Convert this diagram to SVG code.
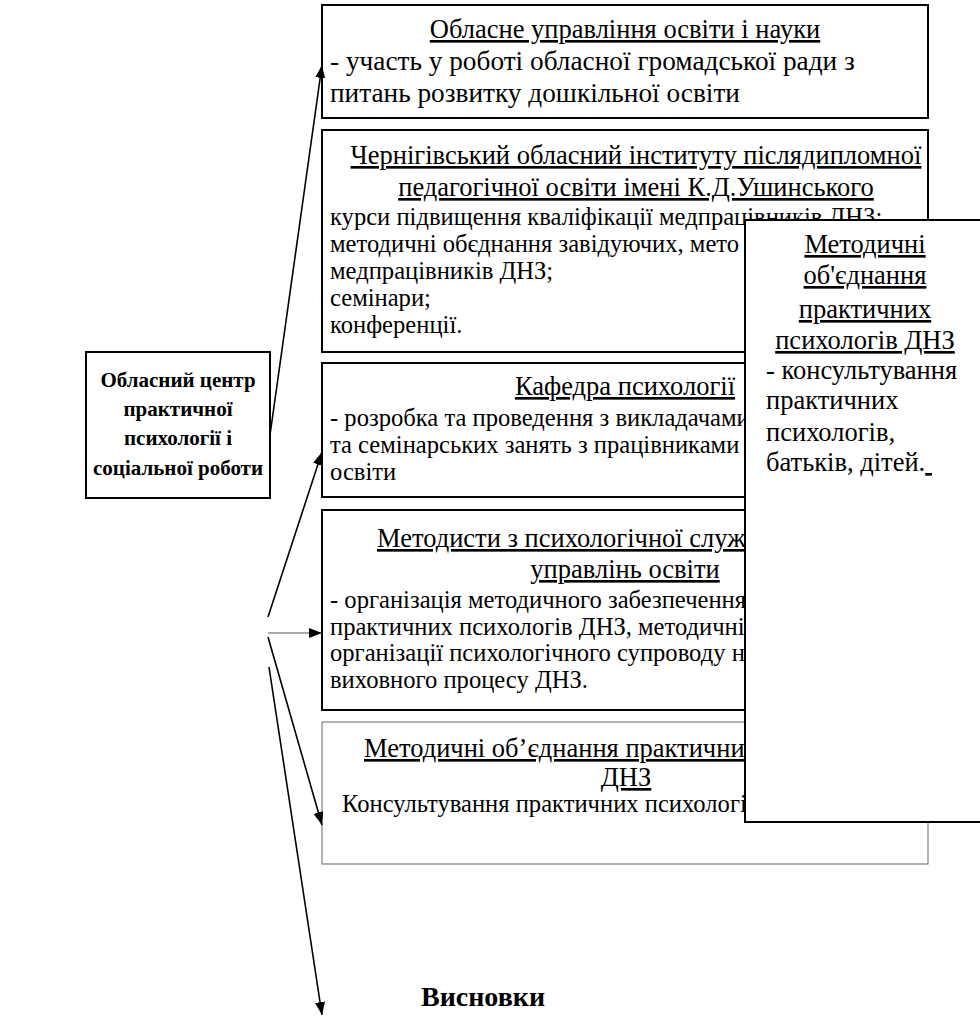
<svg xmlns="http://www.w3.org/2000/svg" width="980" height="1018" viewBox="0 0 980 1018">
<defs>
<marker id="ah" markerUnits="userSpaceOnUse" markerWidth="14" markerHeight="12" refX="13" refY="5" orient="auto">
<path d="M0,0 L13,5 L0,10 z" fill="#000"/>
</marker>
<style>
.box{fill:#fff;stroke:#000;stroke-width:2}
.thin{fill:#fff;stroke:#666;stroke-width:1}
.t{font-family:"Liberation Serif","Times New Roman",serif;font-size:26.5px;fill:#000}
.s{font-family:"Liberation Serif","Times New Roman",serif;font-size:24.6px;fill:#000}
.b{font-family:"Liberation Serif","Times New Roman",serif;font-size:21px;font-weight:bold;fill:#000}
.u{text-decoration:underline}
.c{text-anchor:middle}
.ln{stroke:#000;stroke-width:1.6;fill:none;marker-end:url(#ah)}
</style>
</defs>
<rect width="980" height="1018" fill="#fff"/>

<g id="n1">
<rect class="box" x="322" y="5" width="606" height="113"/>
<text class="t c u" x="625" y="38">Обласне управління освіти і науки</text>
<text class="t" x="330" y="70" style="font-size:27.3px">- участь у роботі обласної громадської ради з</text>
<text class="t" x="330" y="102" style="font-size:27.3px">питань розвитку дошкільної освіти</text>
</g>

<g id="n2">
<rect class="box" x="322" y="130" width="606" height="222"/>
<text class="t c u" x="636" y="164">Чернігівський обласний інституту післядипломної</text>
<text class="t c u" x="636" y="196">педагогічної освіти імені К.Д.Ушинського</text>
<text class="s" x="330" y="225">курси підвищення кваліфікації медпрацівників ДНЗ;</text>
<text class="s" x="330" y="252">методичні обєднання завідуючих, мето</text>
<text class="s" x="330" y="279">медпрацівників ДНЗ;</text>
<text class="s" x="330" y="306">семінари;</text>
<text class="s" x="330" y="333">конференції.</text>
</g>

<g id="n3">
<rect class="box" x="322" y="363" width="606" height="134"/>
<text class="t c u" x="625" y="395">Кафедра психології</text>
<text class="s" x="330" y="426">- розробка та проведення з викладачами</text>
<text class="s" x="330" y="453">та семінарських занять з працівниками</text>
<text class="s" x="330" y="480">освіти</text>
</g>

<g id="n4">
<rect class="box" x="322" y="510" width="606" height="200"/>
<text class="t u" x="377" y="547">Методисти з психологічної служ</text>
<text class="t c u" x="625" y="578">управлінь освіти</text>
<text class="s" x="330" y="608">- організація методичного забезпечення</text>
<text class="s" x="330" y="635">практичних психологів ДНЗ, методичні</text>
<text class="s" x="330" y="661">організації психологічного супроводу н</text>
<text class="s" x="330" y="688">виховного процесу ДНЗ.</text>
</g>

<g id="n5">
<rect class="thin" x="322" y="722" width="606" height="142"/>
<text class="t u" x="364" y="757">Методичні об’єднання практични</text>
<text class="t c u" x="626" y="786">ДНЗ</text>
<text class="s" x="342" y="812">Консультування практичних психологів</text>
</g>

<g id="n6">
<rect class="box" x="745" y="220" width="260" height="602"/>
<text class="t c u" x="865" y="253">Методичні</text>
<text class="t c u" x="865" y="284">об'єднання</text>
<text class="t c u" x="865" y="318">практичних</text>
<text class="t c u" x="865" y="349">психологів ДНЗ</text>
<text class="t" x="766" y="379">- консультування</text>
<text class="t" x="766" y="409">практичних</text>
<text class="t" x="766" y="441">психологів,</text>
<text class="t" x="766" y="471">батьків, дітей.<tspan class="u">&#160;</tspan></text>
</g>

<g id="n0">
<rect class="box" x="86" y="352" width="184" height="146"/>
<text class="b c" x="178" y="387">Обласний центр</text>
<text class="b c" x="178" y="416">практичної</text>
<text class="b c" x="178" y="445">психології і</text>
<text class="b c" x="178" y="475">соціальної роботи</text>
</g>

<g id="n7">
<text class="b c" x="483" y="1006" style="font-size:28px">Висновки</text>
</g>

<g id="connectors">
<line class="ln" x1="270" y1="435" x2="322" y2="65"/>
<line class="ln" x1="268" y1="617" x2="322" y2="452"/>
<line class="ln" x1="268" y1="633" x2="322" y2="633" style="stroke:#555;stroke-width:1"/>
<line class="ln" x1="268" y1="637" x2="322" y2="825"/>
<line class="ln" x1="269" y1="667" x2="322" y2="1015"/>
</g>
</svg>
